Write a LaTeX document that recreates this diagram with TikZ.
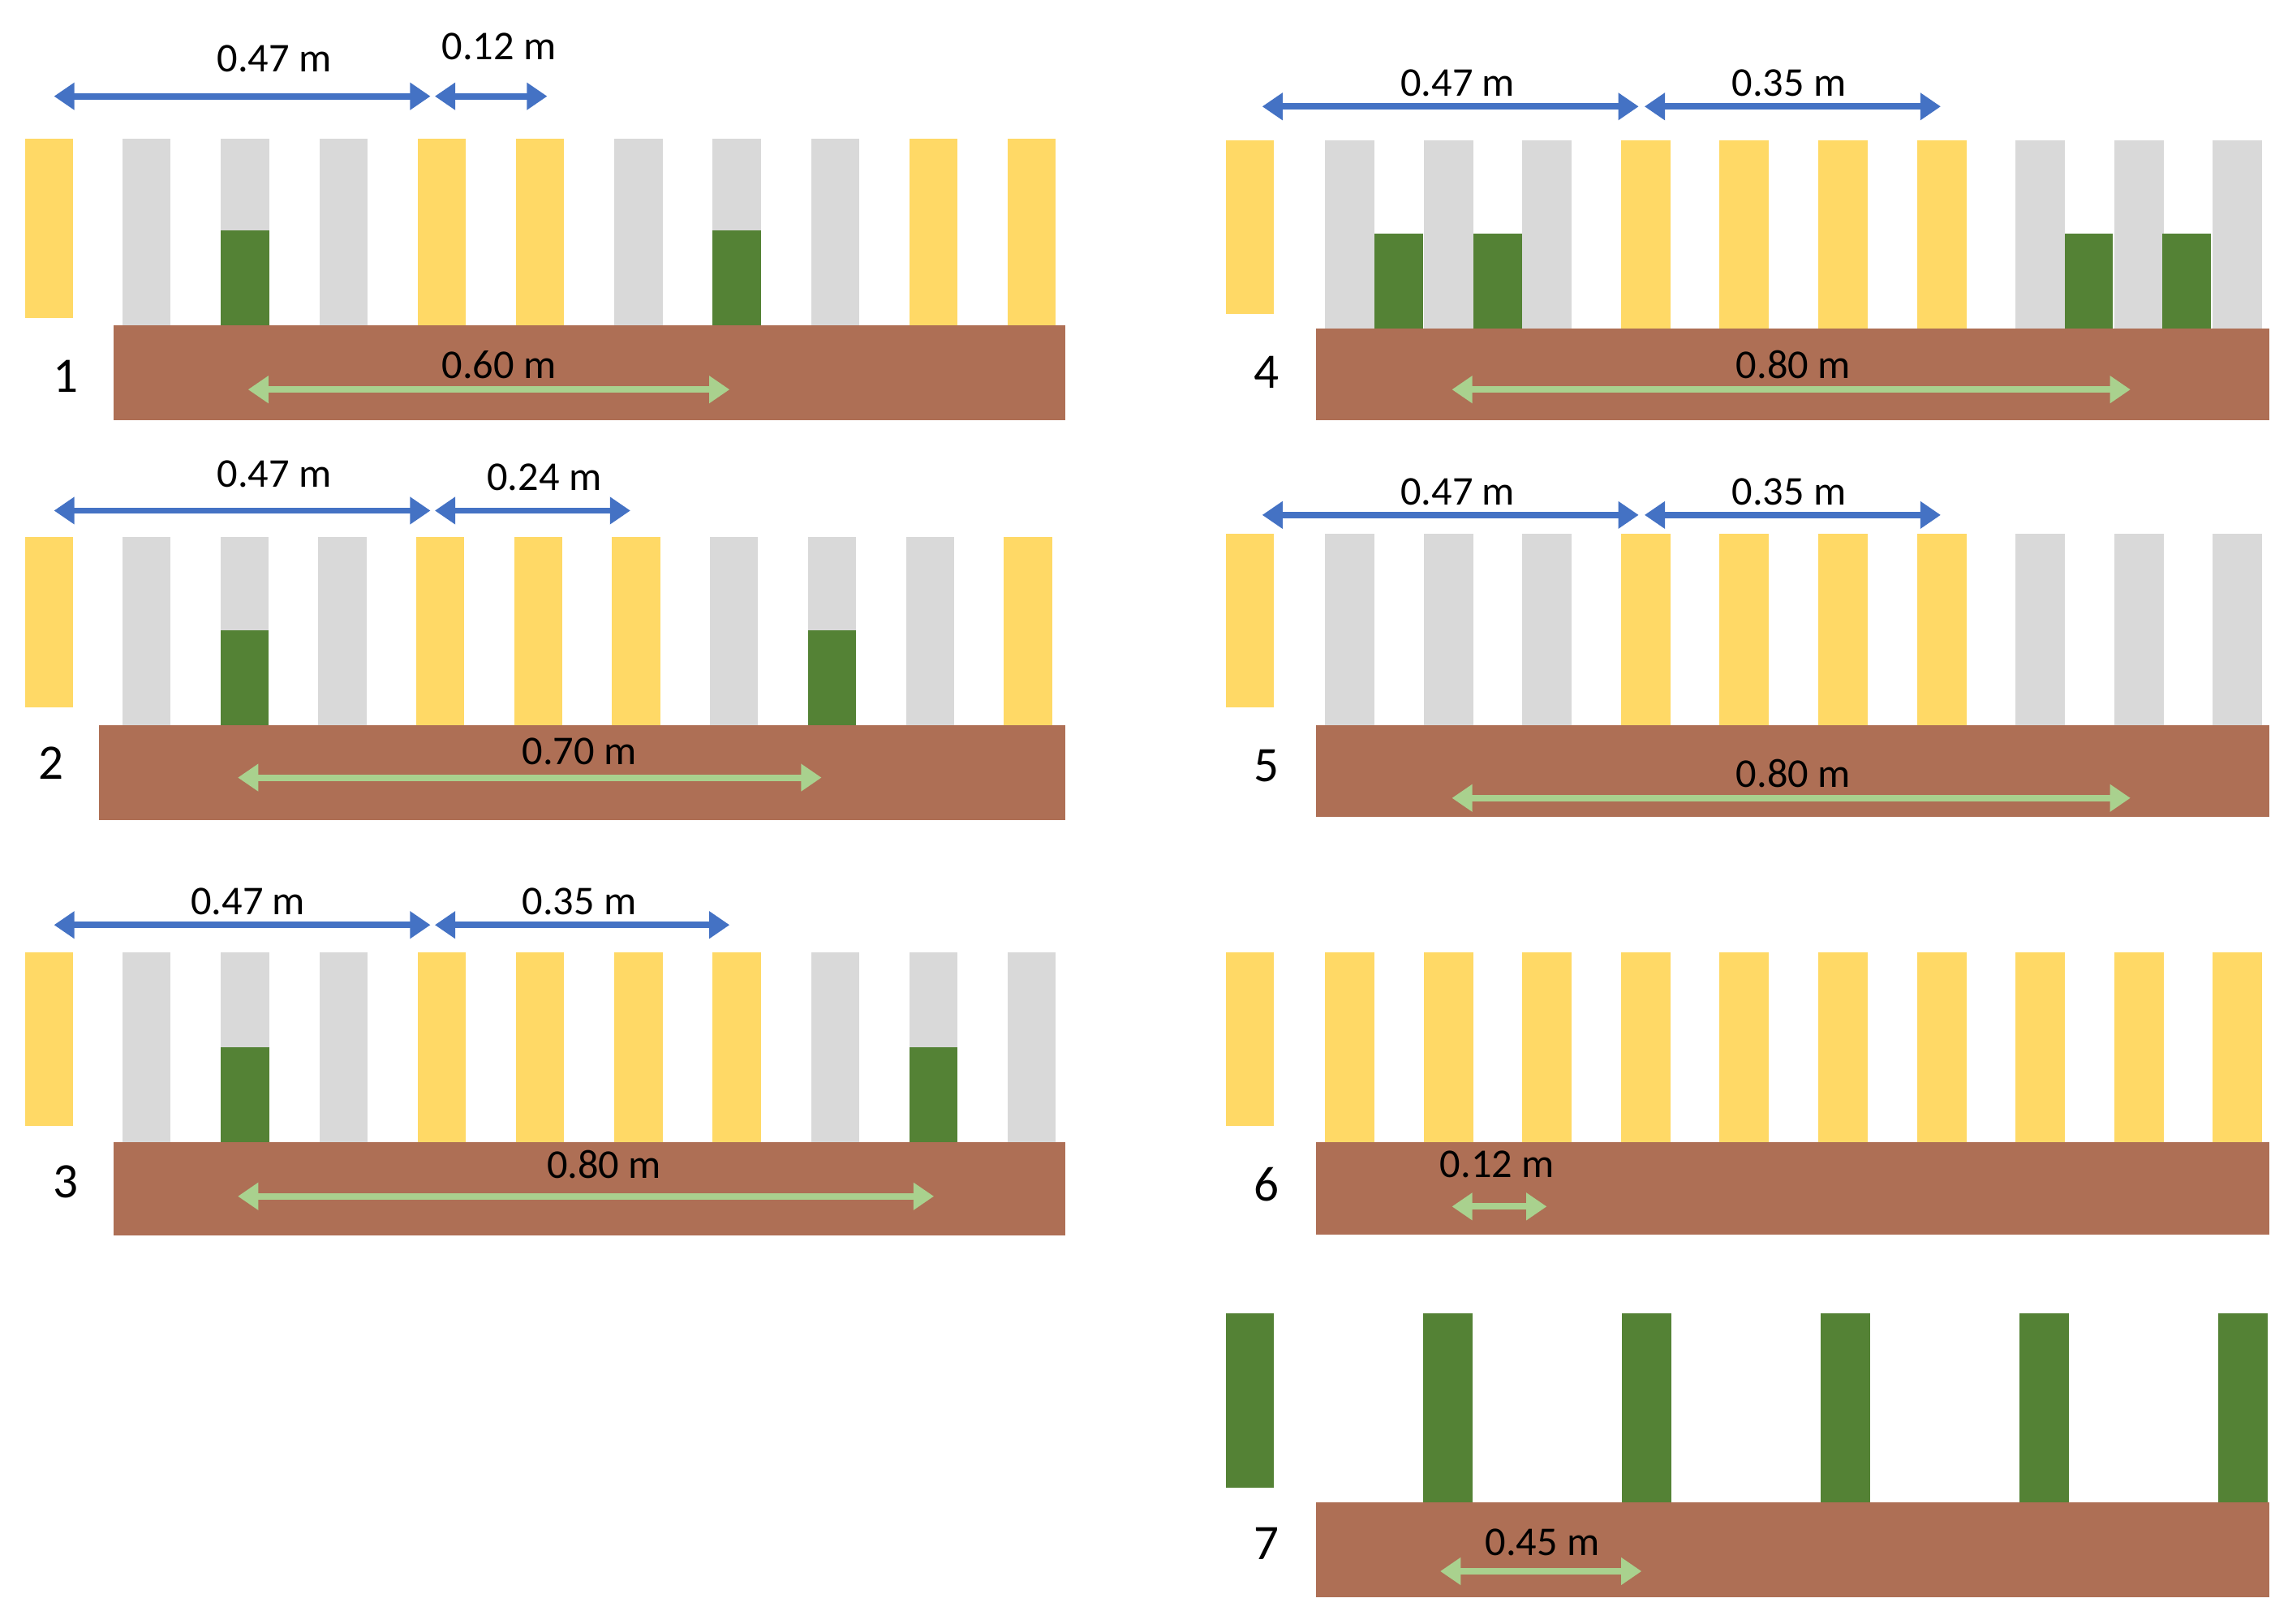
\documentclass[tikz,border=0pt]{standalone}
\usepackage{fontspec}
\setmainfont{Carlito}
\usetikzlibrary{arrows.meta}
\definecolor{yel}{HTML}{FFD966}
\definecolor{gry}{HTML}{D9D9D9}
\definecolor{grn}{HTML}{548235}
\definecolor{brn}{HTML}{AE6F55}
\definecolor{blu}{HTML}{4472C4}
\definecolor{lgr}{HTML}{A9D18E}
\tikzset{
 barY/.style={fill=yel,draw=none},
 barG/.style={fill=gry,draw=none},
 barK/.style={fill=grn,draw=none},
 soil/.style={fill=brn,draw=none},
 barrow/.style={blu,line width=2.2pt,{Triangle[length=7pt,width=9pt]}-{Triangle[length=7pt,width=9pt]}},
 garrow/.style={lgr,line width=2.2pt,{Triangle[length=7pt,width=9pt]}-{Triangle[length=7pt,width=9pt]}},
 lab/.style={font=\fontsize{14}{16}\selectfont,inner sep=0pt},
 num/.style={font=\fontsize{17}{19}\selectfont,inner sep=0pt}
}
\begin{document}
\begin{tikzpicture}[x=0.5pt,y=-0.5pt]
\useasboundingbox (0,0) rectangle (1568,1113);
% ---------- panel 1
\fill[barY] (17,95) rectangle (50,218);
\foreach \i/\t in {0/G,1/K,2/G,3/Y,4/Y,5/G,6/K,7/G,8/Y,9/Y}{
  \pgfmathsetmacro\xa{84+67.4*\i}
  \if\t Y \fill[barY] (\xa,95) rectangle ++(33,128);\fi
  \if\t G \fill[barG] (\xa,95) rectangle ++(33,128);\fi
  \if\t K \fill[barG] (\xa,95) rectangle ++(33,128); \fill[barK] (\xa,158) rectangle ++(33,65);\fi
}
\fill[soil] (78,223) rectangle (730,288);
\node[num] (n1) at (45,258) {1};
\coordinate (g1a) at (170,267); \coordinate (g1b) at (500,267);
\draw[garrow] (g1a) -- (g1b);
\node[lab] (l1c) at (342,250) {0.60 m};
\coordinate (b1a) at (37,66); \coordinate (b1b) at (295,66); \coordinate (b1c) at (298,66); \coordinate (b1d) at (375,66);
\draw[barrow] (b1a) -- (b1b); \draw[barrow] (b1c) -- (b1d);
\node[lab] (l1a) at (188,40) {0.47 m};
\node[lab] (l1b) at (342,32) {0.12 m};
% ---------- panel 2
\fill[barY] (17,368) rectangle (50,485);
\foreach \i/\t in {0/G,1/K,2/G,3/Y,4/Y,5/Y,6/G,7/K,8/G,9/Y}{
  \pgfmathsetmacro\xa{84+67.1*\i}
  \if\t Y \fill[barY] (\xa,368) rectangle ++(33,129);\fi
  \if\t G \fill[barG] (\xa,368) rectangle ++(33,129);\fi
  \if\t K \fill[barG] (\xa,368) rectangle ++(33,129); \fill[barK] (\xa,432) rectangle ++(33,65);\fi
}
\fill[soil] (68,497) rectangle (730,562);
\node[num] (n2) at (35,523) {2};
\coordinate (g2a) at (163,533); \coordinate (g2b) at (563,533);
\draw[garrow] (g2a) -- (g2b);
\node[lab] (l2c) at (397,515) {0.70 m};
\coordinate (b2a) at (37,350); \coordinate (b2b) at (295,350); \coordinate (b2c) at (298,350); \coordinate (b2d) at (432,350);
\draw[barrow] (b2a) -- (b2b); \draw[barrow] (b2c) -- (b2d);
\node[lab] (l2a) at (188,325) {0.47 m};
\node[lab] (l2b) at (373,327) {0.24 m};
% ---------- panel 3
\fill[barY] (17,653) rectangle (50,772);
\foreach \i/\t in {0/G,1/K,2/G,3/Y,4/Y,5/Y,6/Y,7/G,8/K,9/G}{
  \pgfmathsetmacro\xa{84+67.4*\i}
  \if\t Y \fill[barY] (\xa,653) rectangle ++(33,130);\fi
  \if\t G \fill[barG] (\xa,653) rectangle ++(33,130);\fi
  \if\t K \fill[barG] (\xa,653) rectangle ++(33,130); \fill[barK] (\xa,718) rectangle ++(33,65);\fi
}
\fill[soil] (78,783) rectangle (730,847);
\node[num] (n3) at (45,810) {3};
\coordinate (g3a) at (163,820); \coordinate (g3b) at (640,820);
\draw[garrow] (g3a) -- (g3b);
\node[lab] (l3c) at (414,798) {0.80 m};
\coordinate (b3a) at (37,634); \coordinate (b3b) at (295,634); \coordinate (b3c) at (298,634); \coordinate (b3d) at (500,634);
\draw[barrow] (b3a) -- (b3b); \draw[barrow] (b3c) -- (b3d);
\node[lab] (l3a) at (170,618) {0.47 m};
\node[lab] (l3b) at (397,618) {0.35 m};
% ---------- panel 4
\fill[barY] (840,96) rectangle (873,215);
\foreach \i/\t in {0/G,1/G,2/G,3/Y,4/Y,5/Y,6/Y,7/G,8/G,9/G}{
  \pgfmathsetmacro\xa{908+67.6*\i}
  \if\t Y \fill[barY] (\xa,96) rectangle ++(34,129);\fi
  \if\t G \fill[barG] (\xa,96) rectangle ++(34,129);\fi
}
\foreach \xa in {942,1010,1415,1482}{\fill[barK] (\xa,160) rectangle ++(33,65);}
\fill[soil] (902,225) rectangle (1555,288);
\node[num] (n4) at (868,255) {4};
\coordinate (g4a) at (995,267); \coordinate (g4b) at (1460,267);
\draw[garrow] (g4a) -- (g4b);
\node[lab] (l4c) at (1229,250) {0.80 m};
\coordinate (b4a) at (865,73); \coordinate (b4b) at (1123,73); \coordinate (b4c) at (1127,73); \coordinate (b4d) at (1330,73);
\draw[barrow] (b4a) -- (b4b); \draw[barrow] (b4c) -- (b4d);
\node[lab] (l4a) at (999,57) {0.47 m};
\node[lab] (l4b) at (1226,57) {0.35 m};
% ---------- panel 5
\fill[barY] (840,366) rectangle (873,485);
\foreach \i/\t in {0/G,1/G,2/G,3/Y,4/Y,5/Y,6/Y,7/G,8/G,9/G}{
  \pgfmathsetmacro\xa{908+67.6*\i}
  \if\t Y \fill[barY] (\xa,366) rectangle ++(34,131);\fi
  \if\t G \fill[barG] (\xa,366) rectangle ++(34,131);\fi
}
\fill[soil] (902,497) rectangle (1555,560);
\node[num] (n5) at (868,525) {5};
\coordinate (g5a) at (995,547); \coordinate (g5b) at (1460,547);
\draw[garrow] (g5a) -- (g5b);
\node[lab] (l5c) at (1229,530) {0.80 m};
\coordinate (b5a) at (865,353); \coordinate (b5b) at (1123,353); \coordinate (b5c) at (1127,353); \coordinate (b5d) at (1330,353);
\draw[barrow] (b5a) -- (b5b); \draw[barrow] (b5c) -- (b5d);
\node[lab] (l5a) at (999,337) {0.47 m};
\node[lab] (l5b) at (1226,337) {0.35 m};
% ---------- panel 6
\fill[barY] (840,653) rectangle (873,772);
\foreach \i in {0,...,9}{
  \pgfmathsetmacro\xa{908+67.6*\i}
  \fill[barY] (\xa,653) rectangle ++(34,130);
}
\fill[soil] (902,783) rectangle (1555,846);
\node[num] (n6) at (868,812) {6};
\coordinate (g6a) at (995,827); \coordinate (g6b) at (1060,827);
\draw[garrow] (g6a) -- (g6b);
\node[lab] (l6c) at (1026,798) {0.12 m};
% ---------- panel 7
\fill[barK] (840,900) rectangle (873,1020);
\foreach \i in {0,...,4}{
  \pgfmathsetmacro\xa{975+136.3*\i}
  \fill[barK] (\xa,900) rectangle ++(34,130);
}
\fill[soil] (902,1030) rectangle (1555,1095);
\node[num] (n7) at (868,1058) {7};
\coordinate (g7a) at (987,1077); \coordinate (g7b) at (1125,1077);
\draw[garrow] (g7a) -- (g7b);
\node[lab] (l7c) at (1057,1057) {0.45 m};
\end{tikzpicture}
\end{document}
